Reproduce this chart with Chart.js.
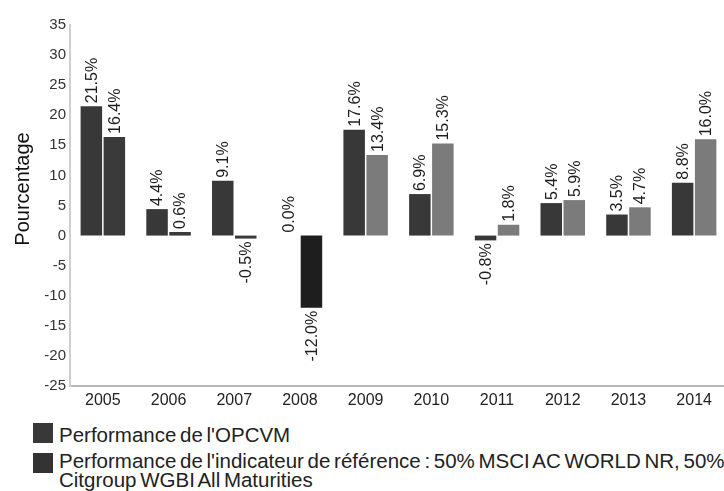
<!DOCTYPE html>
<html>
<head>
<meta charset="utf-8">
<script src="https://cdn.jsdelivr.net/npm/chart.js@4.4.1/dist/chart.umd.min.js"></script>
<style>
  html, body { margin:0; padding:0; background:#fff; overflow:hidden; width:724px; height:491px; }
  #wrap { position:absolute; left:0; top:0; width:728px; height:415px; }
  .leg { position:absolute; font-family:"Liberation Sans", Arial, sans-serif; font-size:20.5px; color:#222; white-space:nowrap; line-height:18.5px; word-spacing:-2px; }
  .sq { position:absolute; width:20px; height:20px; }
</style>
</head>
<body>
<div id="wrap"><canvas id="c" width="728" height="415"></canvas></div>
<div class="sq" id="sq1" style="left:33px; top:423px;"></div>
<div class="leg" id="lg1" style="left:59px; top:426px;"></div>
<div class="sq" id="sq2" style="left:33px; top:453px;"></div>
<div class="leg" id="lg2" style="left:59px; top:452px;"></div>
<script>
const categories = ['2005','2006','2007','2008','2009','2010','2011','2012','2013','2014'];
const fundValues = [21.5, 4.4, 9.1, 0.0, 17.6, 6.9, -0.8, 5.4, 3.5, 8.8];
const benchValues = [16.4, 0.6, -0.5, -12.0, 13.4, 15.3, 1.8, 5.9, 4.7, 16.0];
const fundLabel = "Performance de l'OPCVM";
const benchLabel = ["Performance de l'indicateur de référence : 50% MSCI AC WORLD NR, 50%", "Citgroup WGBI All Maturities"];
const yTitle = 'Pourcentage';

const fundColor = '#383838';
const benchColors = ['#3a3a3a','#3a3a3a','#3a3a3a','#1e1e1e','#7b7b7b','#7b7b7b','#7b7b7b','#7b7b7b','#7b7b7b','#7b7b7b'];

document.getElementById('sq1').style.background = fundColor;
document.getElementById('sq2').style.background = '#333';
document.getElementById('lg1').textContent = fundLabel;
document.getElementById('lg2').innerHTML = benchLabel.join('<br>');

const labelPlugin = {
  id: 'vlabels',
  afterDatasetsDraw(chart) {
    const ctx = chart.ctx;
    ctx.save();
    ctx.font = '16px "Liberation Sans", Arial, sans-serif';
    ctx.fillStyle = '#1e1e1e';
    chart.data.datasets.forEach((ds, di) => {
      const meta = chart.getDatasetMeta(di);
      meta.data.forEach((el, i) => {
        const v = ds.data[i];
        const txt = v.toFixed(1) + '%';
        ctx.save();
        ctx.translate(el.x + 1, v >= 0 ? el.y - 3 : el.y + 3);
        ctx.rotate(-Math.PI / 2);
        ctx.textBaseline = 'middle';
        ctx.textAlign = v >= 0 ? 'left' : 'right';
        ctx.fillText(txt, 0, 0);
        ctx.restore();
      });
    });
    // y-axis title
    ctx.font = '20px "Liberation Sans", Arial, sans-serif';
    ctx.fillStyle = '#111';
    ctx.translate(29, 189);
    ctx.rotate(-Math.PI / 2);
    ctx.textAlign = 'center';
    ctx.textBaseline = 'alphabetic';
    ctx.fillText(yTitle, 0, 0);
    ctx.restore();
  }
};

new Chart(document.getElementById('c'), {
  type: 'bar',
  data: {
    labels: categories,
    datasets: [
      { label: fundLabel, data: fundValues, backgroundColor: fundColor, categoryPercentage: 0.70, barPercentage: 0.935 },
      { label: benchLabel.join(' '), data: benchValues, backgroundColor: benchColors, categoryPercentage: 0.70, barPercentage: 0.935 }
    ]
  },
  options: {
    responsive: false,
    animation: false,
    layout: { padding: { top: 25, right: 1, left: 0, bottom: 0 } },
    plugins: { legend: { display: false }, tooltip: { enabled: false } },
    scales: {
      x: {
        grid: { display: false, drawTicks: false },
        border: { display: true, color: '#b8b8b8', width: 2 },
        ticks: { color: '#222', font: { family: '"Liberation Sans", Arial, sans-serif', size: 16 }, padding: 5, maxRotation: 0 },
        afterFit(s) { s.height = 29; }
      },
      y: {
        min: -25, max: 35,
        grid: { display: false, drawTicks: false },
        border: { display: true, color: '#cfcfcf', width: 2 },
        ticks: { stepSize: 5, color: '#333', font: { family: '"Liberation Sans", Arial, sans-serif', size: 15 }, padding: 4 },
        afterFit(s) { s.width = 70; }
      }
    }
  },
  plugins: [labelPlugin]
});
</script>
</body>
</html>
